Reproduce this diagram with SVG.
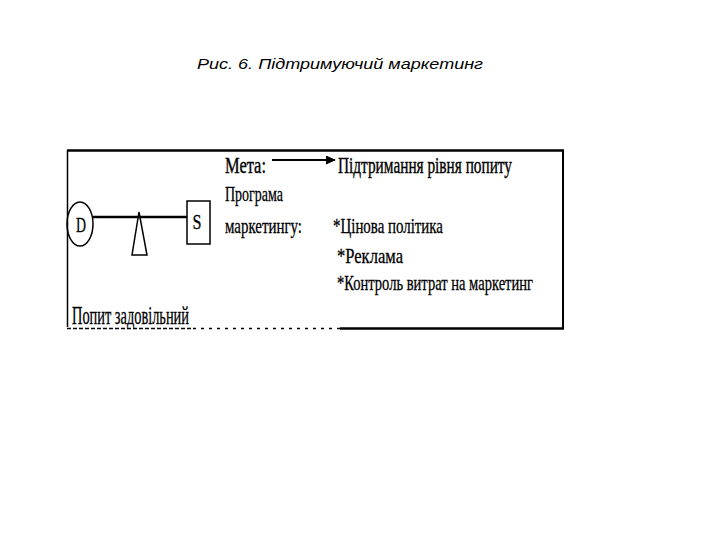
<svg xmlns="http://www.w3.org/2000/svg" width="720" height="540" viewBox="0 0 720 540">
  <style>
    .cap { font-family: "Liberation Sans", Arial, sans-serif; font-style: italic; font-size: 15px; fill: #000; }
    .t { font-family: "Liberation Serif", "Times New Roman", serif; font-size: 21px; fill: #000; stroke: #000; stroke-width: 0.3px; }
    .h { font-family: "Liberation Serif", "Times New Roman", serif; font-size: 23px; fill: #000; stroke: #000; stroke-width: 0.4px; }
    .big { font-family: "Liberation Serif", "Times New Roman", serif; font-size: 25px; fill: #000; stroke: #000; stroke-width: 0.3px; }
    .ln { stroke: #000; fill: none; }
  </style>
  <defs>
    <marker id="ah" markerWidth="10" markerHeight="9" refX="9" refY="4.5" orient="auto" markerUnits="userSpaceOnUse">
      <path d="M0,0 L10,4.5 L0,9 Z" fill="#000"/>
    </marker>
  </defs>
  <rect width="720" height="540" fill="#fff"/>
  <text class="cap" x="197" y="69" textLength="286" lengthAdjust="spacingAndGlyphs">Рис. 6. Підтримуючий маркетинг</text>

  <g id="frame">
    <line class="ln" x1="67" y1="150.5" x2="564" y2="150.5" stroke-width="2.5"/>
    <line class="ln" x1="67.5" y1="150" x2="67.5" y2="327" stroke-width="1.5"/>
    <line class="ln" x1="563" y1="150" x2="563" y2="329" stroke-width="2"/>
    <line class="ln" x1="67" y1="328.5" x2="193" y2="328.5" stroke-width="1.5" stroke="#333" stroke-dasharray="4 2"/>
    <line class="ln" x1="193" y1="328.5" x2="340" y2="328.5" stroke-width="1.5" stroke="#aaa" stroke-dasharray="3 5"/>
    <line class="ln" x1="340" y1="328.5" x2="564" y2="328.5" stroke-width="2.5"/>
  </g>

  <g id="balance">
    <g id="node-D">
      <ellipse class="ln" cx="80" cy="224" rx="13" ry="22" stroke-width="1.5"/>
      <text class="t" x="81" y="232" text-anchor="middle" textLength="10" lengthAdjust="spacingAndGlyphs">D</text>
    </g>
    <line class="ln" x1="93" y1="217" x2="187" y2="217" stroke-width="2.5"/>
    <g id="fulcrum">
      <polygon class="ln" points="139,212 132,255 147,255" stroke-width="1.5"/>
    </g>
    <g id="node-S">
      <rect class="ln" x="187" y="201" width="23" height="43" stroke-width="1.5"/>
      <text class="t" x="197" y="229" text-anchor="middle" textLength="9" lengthAdjust="spacingAndGlyphs">S</text>
    </g>
    <text class="big" x="72" y="324" textLength="117" lengthAdjust="spacingAndGlyphs">Попит задовільний</text>
  </g>

  <g id="goal">
    <text class="h" x="225" y="173" textLength="41" lengthAdjust="spacingAndGlyphs">Мета:</text>
    <text class="h" x="338" y="173" textLength="174" lengthAdjust="spacingAndGlyphs">Підтримання рівня попиту</text>
  </g>
  <g id="connectors">
    <line class="ln" x1="272" y1="160" x2="335" y2="160" stroke-width="2" marker-end="url(#ah)"/>
  </g>
  <g id="program">
    <text class="t" x="225" y="201" textLength="58" lengthAdjust="spacingAndGlyphs">Програма</text>
    <text class="t" x="225" y="233" textLength="77" lengthAdjust="spacingAndGlyphs">маркетингу:</text>
    <text class="t" x="333" y="233" textLength="110" lengthAdjust="spacingAndGlyphs">*Цінова політика</text>
    <text class="t" x="337" y="263" textLength="66" lengthAdjust="spacingAndGlyphs">*Реклама</text>
    <text class="t" x="337" y="290" textLength="196" lengthAdjust="spacingAndGlyphs">*Контроль витрат на маркетинг</text>
  </g>
</svg>
